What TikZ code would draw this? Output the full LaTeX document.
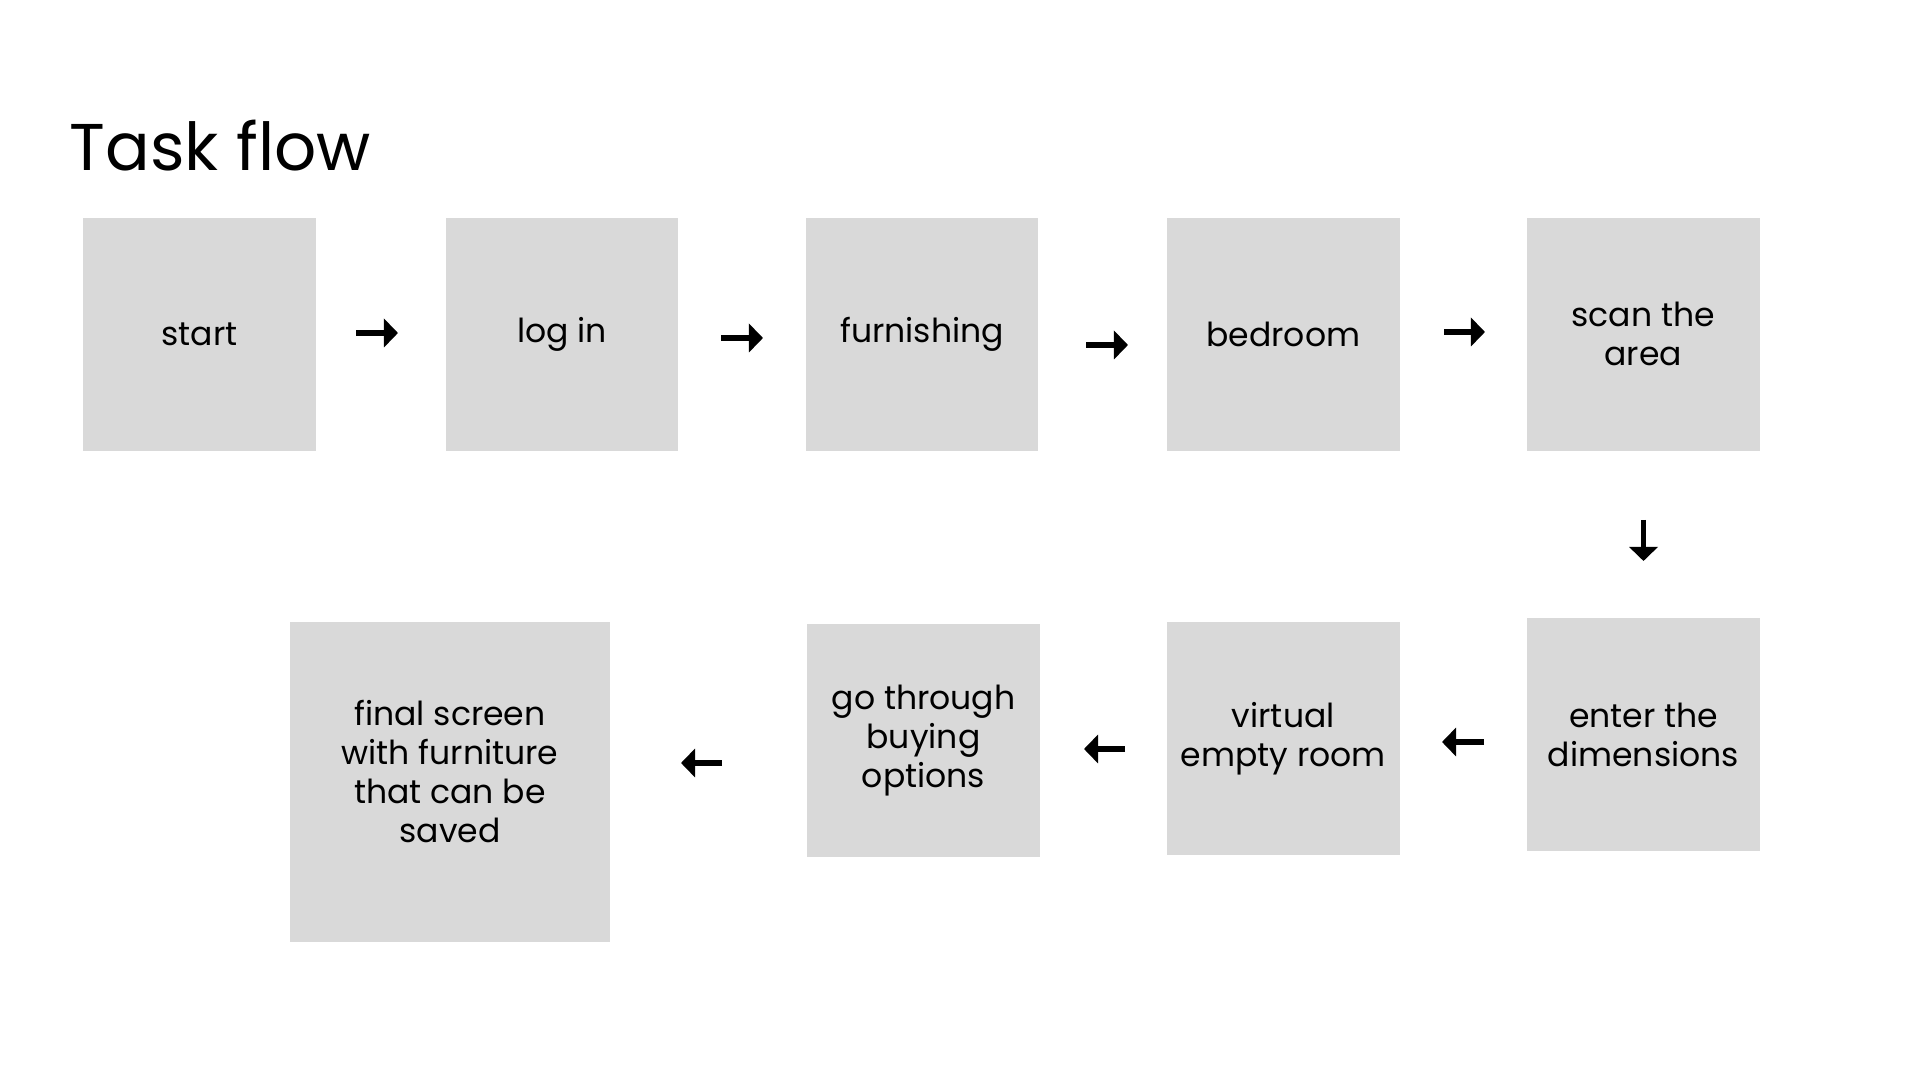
\documentclass[tikz,border=0pt]{standalone}
\usepackage{fontspec}
\setmainfont{Poppins}
\usepackage{tikz}
\usetikzlibrary{positioning}
\usetikzlibrary{arrows.meta}
\definecolor{boxgray}{HTML}{D9D9D9}
\tikzset {
  % grey screen boxes
  box/.style = {fill=boxgray, minimum width=2.326cm, minimum height=2.326cm,
    inner sep=0pt, align=center, font=\fontsize{9.4}{11.1}\selectfont},
  bigbox/.style = {box, minimum width=3.2cm, minimum height=3.2cm},
  % short arrows between the boxes
  flow/.style = {line width=1.6pt, -{Triangle[length=4pt,width=8pt]}},
}

\begin{document}
\begin{tikzpicture}[x=0.01cm, y=-0.01cm]
        \useasboundingbox (0,0) rectangle (1920,1080);

        \node[anchor=base west, inner sep=0pt, font=\fontsize{18.8}{22}\selectfont] (title) at (69,171) {Task flow};

        \node[box] (start) at (199.6,334.3) {start};
        \node[box] (login) at (562,334.3) {log in};
        \node[box] (furnish) at (922,334.3) {furnishing};
        \node[box] (bedroom) at (1283.3,334.3) {bedroom};
        \node[box] (scan) at (1643.3,334.3) {scan the\\area};

        \node[box] (enter) at (1643.5,734.7) {enter the\\dimensions};
        \node[box] (virtual) at (1283.3,738.3) {virtual\\empty room};
        \node[box] (buying) at (923.5,740.8) {go through\\buying\\options};
        \node[bigbox] (final) at (450,782) {final screen\\with furniture\\that can be\\saved\\[-4.9pt]};

        \coordinate (a1) at (356,333);
        \coordinate (b1) at (398,333);
        \coordinate (a2) at (721,338);
        \coordinate (b2) at (763,338);
        \coordinate (a3) at (1086,345);
        \coordinate (b3) at (1128,345);
        \coordinate (a4) at (1444,332);
        \coordinate (b4) at (1485,332);
        \coordinate (a5) at (1643.5,520);
        \coordinate (b5) at (1643.5,561);
        \coordinate (a6) at (1484,742);
        \coordinate (b6) at (1442,742);
        \coordinate (a7) at (1125,749);
        \coordinate (b7) at (1084,749);
        \coordinate (a8) at (722,763);
        \coordinate (b8) at (681,763);

        \draw [flow] (a1) -- (b1);
        \draw [flow] (a2) -- (b2);
        \draw [flow] (a3) -- (b3);
        \draw [flow] (a4) -- (b4);
        \draw [flow] (a5) -- (b5);
        \draw [flow] (a6) -- (b6);
        \draw [flow] (a7) -- (b7);
        \draw [flow] (a8) -- (b8);
      \end{tikzpicture}
\end{document}
